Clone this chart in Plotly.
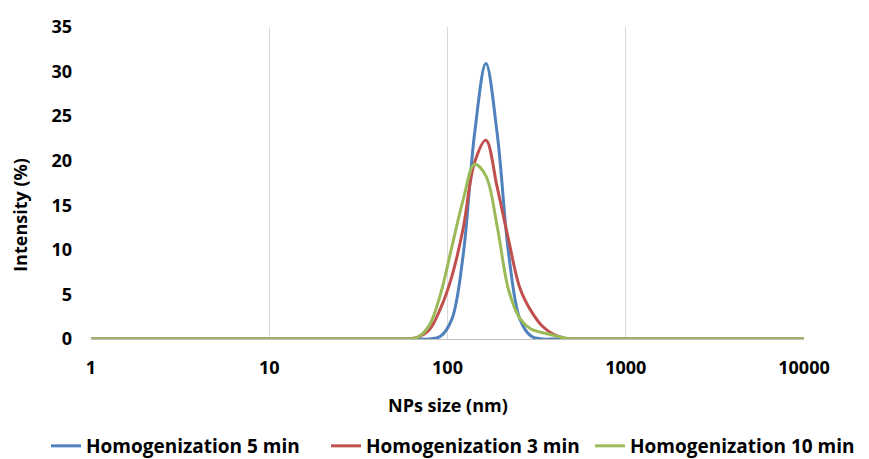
import plotly.graph_objects as go

# Size bins (nm)
sizes = [0.9649, 1.117, 1.294, 1.499, 1.736, 2.010, 2.328, 2.696, 3.122, 3.615,
         4.187, 4.849, 5.615, 6.503, 7.531, 8.721, 10.10, 11.70, 13.54, 15.69,
         18.17, 21.04, 24.36, 28.21, 32.67, 37.84, 43.82, 50.75, 58.77, 68.06,
         78.82, 91.28, 105.7, 122.4, 141.8, 164.2, 190.1, 220.2, 255.0, 295.3,
         342.0, 396.1, 458.7, 531.2, 615.1, 712.4, 825.0, 955.4, 1106, 1281,
         1484, 1718, 1990, 2305, 2669, 3091, 3580, 4145, 4801, 5560,
         6439, 7456, 8635, 10000]

zeros28 = [0] * 28
tail21 = [0] * 21

homog_5min = zeros28 + [0, 0, 0, 0.3, 2.2, 9.4, 23.0, 30.9, 23.0, 9.6, 2.2, 0.3, 0, 0, 0] + tail21
homog_3min = zeros28 + [0, 0.2, 1.0, 3.4, 7.0, 12.4, 19.8, 22.3, 17.0, 11.1, 5.7, 3.1, 1.4, 0.5, 0.1] + tail21
homog_10min = zeros28 + [0, 0.2, 1.5, 5.0, 10.3, 15.6, 19.6, 18.3, 12.6, 5.5, 2.3, 1.1, 0.7, 0.4, 0.1] + tail21

series = [
    ("Homogenization 5 min", homog_5min, "#4F81BD"),
    ("Homogenization 3 min", homog_3min, "#C0504D"),
    ("Homogenization 10 min", homog_10min, "#9BBB59"),
]

x_ticks = [1, 10, 100, 1000, 10000]
x_ticklabels = ["1", "10", "100", "1000", "10000"]
y_ticks = [0, 5, 10, 15, 20, 25, 30, 35]

FONT = "Open Sans"
W, H = 861, 451   # page body adds an 8px margin
legend_lefts = [38, 318, 582]

fig = go.Figure()
legend_names = ["legend", "legend2", "legend3"]
for (name, vals, color), lg in zip(series, legend_names):
    fig.add_trace(go.Scatter(
        x=sizes, y=vals, name=name, mode="lines", legend=lg,
        line=dict(color=color, width=3, shape="spline", smoothing=1.0),
    ))

legend_common = dict(
    orientation="h", xref="container", yref="container",
    y=1 - 438 / H, xanchor="left", yanchor="middle",
    font=dict(family=FONT, size=19, color="#000000", weight="bold"),
    itemwidth=30, bgcolor="rgba(0,0,0,0)",
)

fig.update_layout(
    width=W, height=H,
    margin=dict(l=83, r=W - 796, t=19, b=H - 331, autoexpand=False),
    paper_bgcolor="white", plot_bgcolor="white",
    font=dict(family=FONT, size=18, color="#000000", weight="bold"),
    showlegend=True,
    legend=dict(legend_common, x=legend_lefts[0] / W),
    legend2=dict(legend_common, x=legend_lefts[1] / W),
    legend3=dict(legend_common, x=legend_lefts[2] / W),
    xaxis=dict(
        type="log", range=[0, 4],
        tickvals=x_ticks, ticktext=x_ticklabels,
        showgrid=True, gridcolor="#D9D9D9", gridwidth=1,
        showline=True, linecolor="#BFBFBF", linewidth=1,
        ticks="", zeroline=False, ticklabelstandoff=12,
        tickfont=dict(family=FONT, size=18, weight="bold"),
    ),
    yaxis=dict(
        range=[0, 35], tickvals=y_ticks,
        showgrid=False, showline=False, zeroline=False, ticks="",
        ticklabelstandoff=18,
        tickfont=dict(family=FONT, size=18, weight="bold"),
    ),
    annotations=[
        dict(text="NPs size (nm)", xref="paper", yref="paper",
             x=0.5, y=-0.211, xanchor="center", yanchor="middle",
             showarrow=False, font=dict(family=FONT, size=18, weight="bold")),
        dict(text="Intensity (%)", xref="paper", yref="paper",
             x=-0.1, y=0.397, xanchor="center", yanchor="middle",
             textangle=-90, showarrow=False,
             font=dict(family=FONT, size=18, weight="bold")),
    ],
)

fig.write_html("out.html")
